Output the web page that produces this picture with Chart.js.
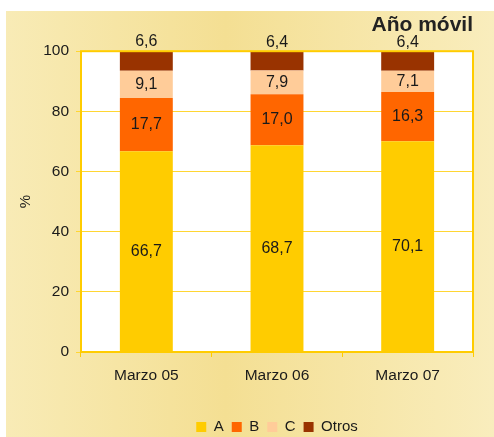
<!DOCTYPE html>
<html lang="es">
<head>
<meta charset="UTF-8">
<title>Año móvil</title>
<script src="https://cdn.jsdelivr.net/npm/chart.js"></script>
<style>
    body { margin: 0; background: #fff; }
    canvas { display: block; }
</style>
</head>
<body>
<canvas id="chart" width="494" height="437"></canvas>
<script>
    const periods = ['Marzo 05', 'Marzo 06', 'Marzo 07'];
    const valuesA = [66.7, 68.7, 70.1];
    const valuesB = [17.7, 17.0, 16.3];
    const valuesC = [9.1, 7.9, 7.1];
    const valuesOtros = [6.6, 6.4, 6.4];
    const yTicks = [0, 20, 40, 60, 80, 100];

    const FONT = '"Liberation Sans", Arial, sans-serif';
    const fmt = v => v.toFixed(1).replace('.', ',');

    // fondo amarillo del panel + area blanca
    const panelPlugin = {
        id: 'panel',
        beforeDraw(chart) {
            const ctx = chart.ctx;
            const a = chart.chartArea;
            ctx.save();
            ctx.fillStyle = '#ffffff';
            ctx.fillRect(0, 0, chart.width, chart.height);
            const g = ctx.createLinearGradient(6, 0, chart.width, 0);
            g.addColorStop(0, '#f8ebb6');
            g.addColorStop(0.45, '#f4df93');
            g.addColorStop(1, '#f9edbd');
            ctx.fillStyle = g;
            ctx.fillRect(6, 11, chart.width - 6, chart.height - 11);
            ctx.fillStyle = '#ffffff';
            ctx.fillRect(a.left, a.top, a.right - a.left, a.bottom - a.top);
            ctx.restore();
        },
        afterDraw(chart) {
            const ctx = chart.ctx;
            const a = chart.chartArea;
            ctx.save();
            ctx.strokeStyle = '#ffcc00';
            ctx.lineWidth = 2;
            ctx.strokeRect(a.left, a.top, a.right - a.left, a.bottom - a.top);
            ctx.restore();
        }
    };

    // etiquetas de valores
    const labelPlugin = {
        id: 'valueLabels',
        afterDatasetsDraw(chart) {
            const ctx = chart.ctx;
            ctx.save();
            ctx.font = '16px ' + FONT;
            ctx.fillStyle = '#1a1a1a';
            ctx.textAlign = 'center';
            ctx.textBaseline = 'middle';
            chart.data.datasets.forEach((ds, i) => {
                const meta = chart.getDatasetMeta(i);
                meta.data.forEach((bar, j) => {
                    const txt = fmt(ds.data[j]);
                    if (i === 3) {
                        ctx.fillText(txt, bar.x, bar.y - 9);
                    } else {
                        ctx.fillText(txt, bar.x, (bar.y + bar.base) / 2);
                    }
                });
            });
            ctx.restore();
        }
    };

    new Chart(document.getElementById('chart'), {
        type: 'bar',
        data: {
            labels: periods,
            datasets: [
                { label: 'A', data: valuesA, backgroundColor: '#ffcc00' },
                { label: 'B', data: valuesB, backgroundColor: '#ff6600' },
                { label: 'C', data: valuesC, backgroundColor: '#ffcc99' },
                { label: 'Otros', data: valuesOtros, backgroundColor: '#993300' }
            ]
        },
        options: {
            responsive: false,
            animation: false,
            devicePixelRatio: 1,
            categoryPercentage: 1,
            barPercentage: 0.405,
            layout: { padding: { left: 6, top: 13, right: 21, bottom: -7.5 } },
            plugins: {
                title: {
                    display: true,
                    text: 'Año móvil',
                    align: 'end',
                    color: '#222',
                    font: { family: FONT, size: 21, weight: 'bold' },
                    padding: { top: 0, bottom: 13 }
                },
                legend: {
                    position: 'bottom',
                    fullSize: false,
                    labels: {
                        boxWidth: 10,
                        boxHeight: 10,
                        padding: 8,
                        color: '#1a1a1a',
                        font: { family: FONT, size: 15 }
                    }
                },
                tooltip: { enabled: false }
            },
            scales: {
                x: {
                    stacked: true,
                    afterFit: axis => { axis.height = 59.5; },
                    grid: { drawOnChartArea: false, color: '#ffcc00', tickLength: 5, offset: true },
                    border: { display: false },
                    ticks: {
                        color: '#1a1a1a',
                        padding: 9,
                        font: { family: FONT, size: 15.5 }
                    }
                },
                y: {
                    stacked: true,
                    min: 0,
                    max: 100,
                    afterBuildTicks: axis => { axis.ticks = yTicks.map(v => ({ value: v })); },
                    afterFit: axis => { axis.width = 75; },
                    grid: { color: '#ffd633', lineWidth: 1, tickLength: 5 },
                    border: { display: false },
                    title: {
                        display: true,
                        text: '%',
                        color: '#1a1a1a',
                        padding: { top: 11, bottom: 0 },
                        font: { family: FONT, size: 15 }
                    },
                    ticks: {
                        color: '#1a1a1a',
                        padding: 7,
                        font: { family: FONT, size: 15.5 }
                    }
                }
            }
        },
        plugins: [panelPlugin, labelPlugin]
    });
</script>
</body>
</html>
